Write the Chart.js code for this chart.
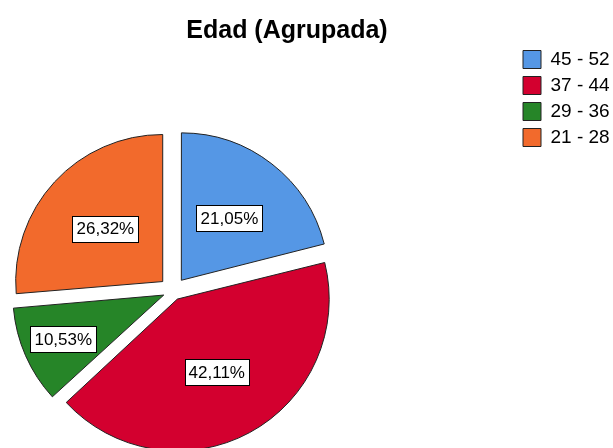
<!DOCTYPE html>
<html>
<head>
<meta charset="utf-8">
<title>Edad (Agrupada)</title>
<script src="https://cdn.jsdelivr.net/npm/chart.js@4/dist/chart.umd.min.js"></script>
<style>
  html, body { margin: 0; padding: 0; background: #fff; }
  #caja { width: 613px; height: 448px; }
</style>
</head>
<body>
<div id="caja"><canvas id="grafico"></canvas></div>
<script>
// datos del grafico (porcentajes por grupo de edad)
const categorias = ['45 - 52', '37 - 44', '29 - 36', '21 - 28'];
const porcentajes = [21.05, 42.11, 10.53, 26.32];
const colores = ['#5597e5', '#d3002f', '#268528', '#f26a2c'];
const tituloTexto = 'Edad (Agrupada)';

const fuente = '"Liberation Sans", Arial, sans-serif';
const separacion = 14; // desplazamiento de cada porcion

// angulo de la porcion en radianes
function anguloPorcion(ctx) {
  const datos = ctx.dataset.data;
  const total = datos.reduce((a, b) => a + b, 0);
  return datos[ctx.dataIndex] / total * Math.PI * 2;
}

// chart.js traslada la porcion offset/4 * (1 + fix), se compensa aqui
function offsetPorcion(ctx) {
  const a = anguloPorcion(ctx);
  const fix = 1 - Math.sin(Math.min(Math.PI, a));
  return 4 * separacion / (1 + fix);
}

// coloca area del pie y leyenda como en el original
const ajusteLayout = {
  id: 'ajusteLayout',
  afterLayout(chart) {
    const a = chart.chartArea;
    a.left = 0; a.right = 346; a.top = 134; a.bottom = 448;
    a.width = a.right - a.left;
    a.height = a.bottom - a.top;
    const lg = chart.legend;
    const w = lg.width, h = lg.height;
    lg.left = 516; lg.right = lg.left + w;
    lg.top = 43; lg.bottom = lg.top + h;
  }
};

// etiquetas con porcentaje en recuadro blanco
const etiquetas = {
  id: 'etiquetas',
  afterDatasetsDraw(chart) {
    const ctx = chart.ctx;
    const meta = chart.getDatasetMeta(0);
    ctx.save();
    ctx.font = '17px ' + fuente;
    ctx.textAlign = 'center';
    ctx.textBaseline = 'middle';
    meta.data.forEach(function(arc, i) {
      const p = arc.getProps(['x', 'y', 'startAngle', 'endAngle', 'outerRadius']);
      const medio = (p.startAngle + p.endAngle) / 2;
      const ang = p.endAngle - p.startAngle;
      const frac = ang < 1 ? 0.72 : 0.53;
      const d = separacion + p.outerRadius * frac;
      const x = p.x + Math.cos(medio) * d;
      const y = p.y + Math.sin(medio) * d;
      const txt = porcentajes[i].toFixed(2).replace('.', ',') + '%';
      const w = Math.round(ctx.measureText(txt).width + 8);
      const h = 26;
      const bx = Math.round(x - w / 2) + 0.5;
      const by = Math.round(y - h / 2) + 0.5;
      ctx.fillStyle = '#fff';
      ctx.fillRect(bx, by, w, h);
      ctx.strokeStyle = '#000';
      ctx.lineWidth = 1;
      ctx.strokeRect(bx, by, w, h);
      ctx.fillStyle = '#000';
      ctx.fillText(txt, x, y + 1);
    });
    ctx.restore();
  }
};

new Chart(document.getElementById('grafico'), {
  type: 'pie',
  data: {
    labels: categorias,
    datasets: [{
      data: porcentajes,
      backgroundColor: colores,
      borderColor: '#222',
      borderWidth: 1,
      offset: offsetPorcion,
      clip: false
    }]
  },
  options: {
    responsive: true,
    maintainAspectRatio: false,
    animation: false,
    radius: 147,
    layout: { padding: { left: 0, right: 39, top: 0, bottom: 0 } },
    plugins: {
      title: {
        display: true,
        text: tituloTexto,
        color: '#000',
        font: { family: fuente, size: 25, weight: 'bold' },
        padding: { top: 16, bottom: 6 }
      },
      legend: {
        position: 'right',
        align: 'start',
        labels: {
          color: '#000',
          font: { family: fuente, size: 19 },
          boxWidth: 18,
          boxHeight: 18,
          padding: 7
        }
      },
      tooltip: { enabled: false }
    }
  },
  plugins: [ajusteLayout, etiquetas]
});
</script>
</body>
</html>
